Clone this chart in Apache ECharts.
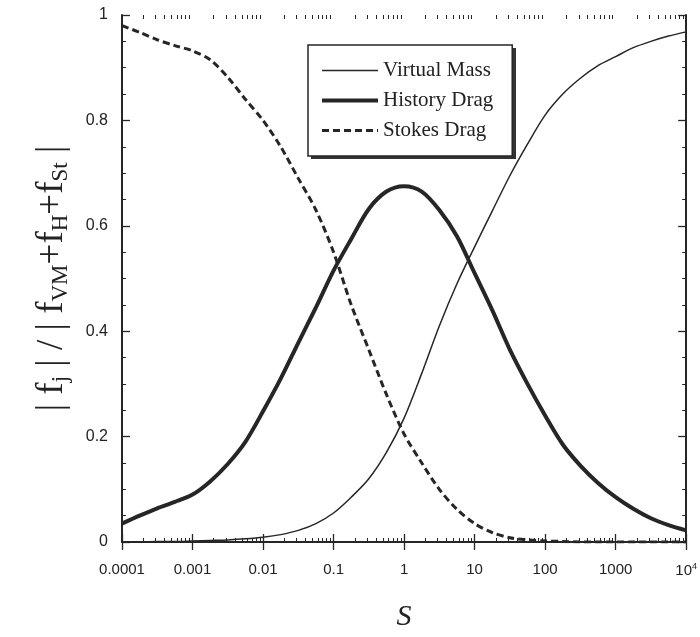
<!DOCTYPE html>
<html>
<head>
<meta charset="utf-8">
<script src="https://cdn.jsdelivr.net/npm/echarts@6/dist/echarts.min.js"></script>
<style>html,body{margin:0;padding:0;background:#fff}#c{width:700px;height:637px}</style>
</head>
<body>
<div id="c"></div>
<script>
// S values (log-spaced, quarter decades)
const S = [0.0001, 0.000178, 0.000316, 0.000562, 0.001, 0.00178, 0.00316, 0.00562,
           0.01, 0.0178, 0.0316, 0.0562, 0.1, 0.178, 0.316, 0.562,
           1, 1.78, 3.16, 5.62, 10, 17.8, 31.6, 56.2,
           100, 178, 316, 562, 1000, 1780, 3160, 5620, 10000];
const virtualMass = [0.0, 0.0, 0.001, 0.001, 0.002, 0.003, 0.004, 0.006,
                     0.009, 0.014, 0.022, 0.035, 0.055, 0.085, 0.12, 0.17,
                     0.235, 0.32, 0.41, 0.49, 0.56, 0.628, 0.695, 0.755,
                     0.81, 0.85, 0.88, 0.904, 0.921, 0.938, 0.95, 0.96, 0.968];
const historyDrag = [0.035, 0.05, 0.064, 0.076, 0.09, 0.115, 0.148, 0.19,
                     0.248, 0.31, 0.378, 0.445, 0.515, 0.575, 0.632, 0.665,
                     0.675, 0.665, 0.63, 0.58, 0.51, 0.44, 0.365, 0.30,
                     0.24, 0.185, 0.145, 0.112, 0.085, 0.063, 0.045, 0.032, 0.022];
const stokesDrag = [0.98, 0.967, 0.953, 0.942, 0.932, 0.915, 0.882, 0.84,
                    0.80, 0.75, 0.69, 0.63, 0.55, 0.45, 0.365, 0.28,
                    0.205, 0.15, 0.10, 0.062, 0.035, 0.018, 0.008, 0.004,
                    0.002, 0.001, 0.0, 0.0, 0.0, 0.0, 0.0, 0.0, 0.0];
const seriesNames = ['Virtual Mass', 'History Drag', 'Stokes Drag'];
const xTickLabels = ['0.0001', '0.001', '0.01', '0.1', '1', '10', '100', '1000', '{b|10}{sup|4}'];
const yTickLabels = ['0', '0.2', '0.4', '0.6', '0.8', '1'];

const minorX = [];
for (let k = -4; k < 4; k++) for (let m = 2; m <= 9; m++) minorX.push(m * Math.pow(10, k));

const pairs = arr => S.map((s, i) => [s, arr[i]]);
const ink = '#262626';
const frameLine = { show: true, lineStyle: { color: ink, width: 2 } };

function xAx(pos, labels) {
  return {
    type: 'log', logBase: 10, min: 0.0001, max: 10000, position: pos, splitNumber: 8,
    axisLine: frameLine,
    axisTick: { show: true, inside: true, length: 8, lineStyle: { color: ink, width: 1.3 } },
    axisLabel: labels ? {
      show: true, margin: 20, color: '#222', fontFamily: 'Liberation Sans', fontSize: 15,
      formatter: v => xTickLabels[Math.round(Math.log10(v)) + 4],
      rich: { b: { fontFamily: 'Liberation Sans', fontSize: 15, color: '#222' },
              sup: { fontFamily: 'Liberation Sans', fontSize: 9, color: '#222', padding: [0, 0, 9, 0] } }
    } : { show: false },
    splitLine: { show: false },
    name: labels ? 'S' : '',
    nameLocation: 'middle', nameGap: 60,
    nameTextStyle: { fontFamily: 'Liberation Serif', fontStyle: 'italic', fontSize: 30, color: '#222' }
  };
}
function xMinor(pos) {
  return {
    type: 'log', logBase: 10, min: 0.0001, max: 10000, position: pos,
    axisLine: { show: false },
    axisTick: { show: true, inside: true, length: 4, customValues: minorX, lineStyle: { color: ink, width: 1 } },
    axisLabel: { show: false }, splitLine: { show: false }
  };
}
function yAx(pos, labels) {
  return {
    type: 'value', min: 0, max: 1, interval: 0.2, position: pos,
    axisLine: frameLine,
    axisTick: { show: true, inside: true, length: 8, lineStyle: { color: ink, width: 1.3 } },
    minorTick: { show: true, splitNumber: 4, length: 4, lineStyle: { color: ink, width: 1 } },
    axisLabel: labels ? {
      show: true, margin: 14, color: '#222', fontFamily: 'Liberation Sans', fontSize: 16,
      formatter: v => yTickLabels[Math.round(v * 5)]
    } : { show: false },
    splitLine: { show: false }, minorSplitLine: { show: false },
    name: labels ? '{a|| f}{s|j}{a| | / | f}{s|VM}{a|+f}{s|H}{a|+f}{s|St}{a| |}' : '',
    nameLocation: 'middle', nameRotate: 90, nameGap: 50,
    nameTextStyle: {
      rich: {
        a: { fontFamily: 'Liberation Serif', fontSize: 37, color: '#222' },
        s: { fontFamily: 'Liberation Serif', fontSize: 23, color: '#222', padding: [17, 0, 0, 0] }
      }
    }
  };
}

const chart = echarts.init(document.getElementById('c'), null, { renderer: 'canvas' });
chart.setOption({
  backgroundColor: '#fff',
  animation: false,
  grid: { left: 122, right: 10, top: 15, bottom: 93, containLabel: false },
  xAxis: [xAx('bottom', true), xAx('top', false), xMinor('bottom'), xMinor('top')],
  yAxis: [yAx('left', true), yAx('right', false)],
  graphic: [{
    type: 'rect', left: 311, top: 48, z: 1, silent: true,
    shape: { width: 205, height: 111 }, style: { fill: '#333' }
  }],
  legend: {
    orient: 'vertical', left: 308, top: 45, z: 10,
    padding: [14, 19, 14, 12], itemGap: 7, itemWidth: 56, itemHeight: 14,
    backgroundColor: '#fff', borderColor: ink, borderWidth: 1.5,
    itemStyle: { opacity: 0 },
    lineStyle: { width: 'inherit' },
    textStyle: { fontFamily: 'Liberation Serif', fontSize: 21, color: '#222', lineHeight: 23 },
    data: seriesNames
  },
  series: [
    { name: seriesNames[0], type: 'line', data: pairs(virtualMass), smooth: 0.3, symbol: 'none',
      lineStyle: { color: ink, width: 1.5 }, itemStyle: { color: ink } },
    { name: seriesNames[1], type: 'line', data: pairs(historyDrag), smooth: 0.3, symbol: 'none',
      lineStyle: { color: ink, width: 4 }, itemStyle: { color: ink } },
    { name: seriesNames[2], type: 'line', data: pairs(stokesDrag), smooth: 0.3, symbol: 'none',
      lineStyle: { color: ink, width: 3, type: [7, 4] }, itemStyle: { color: ink } }
  ]
});
</script>
</body>
</html>
